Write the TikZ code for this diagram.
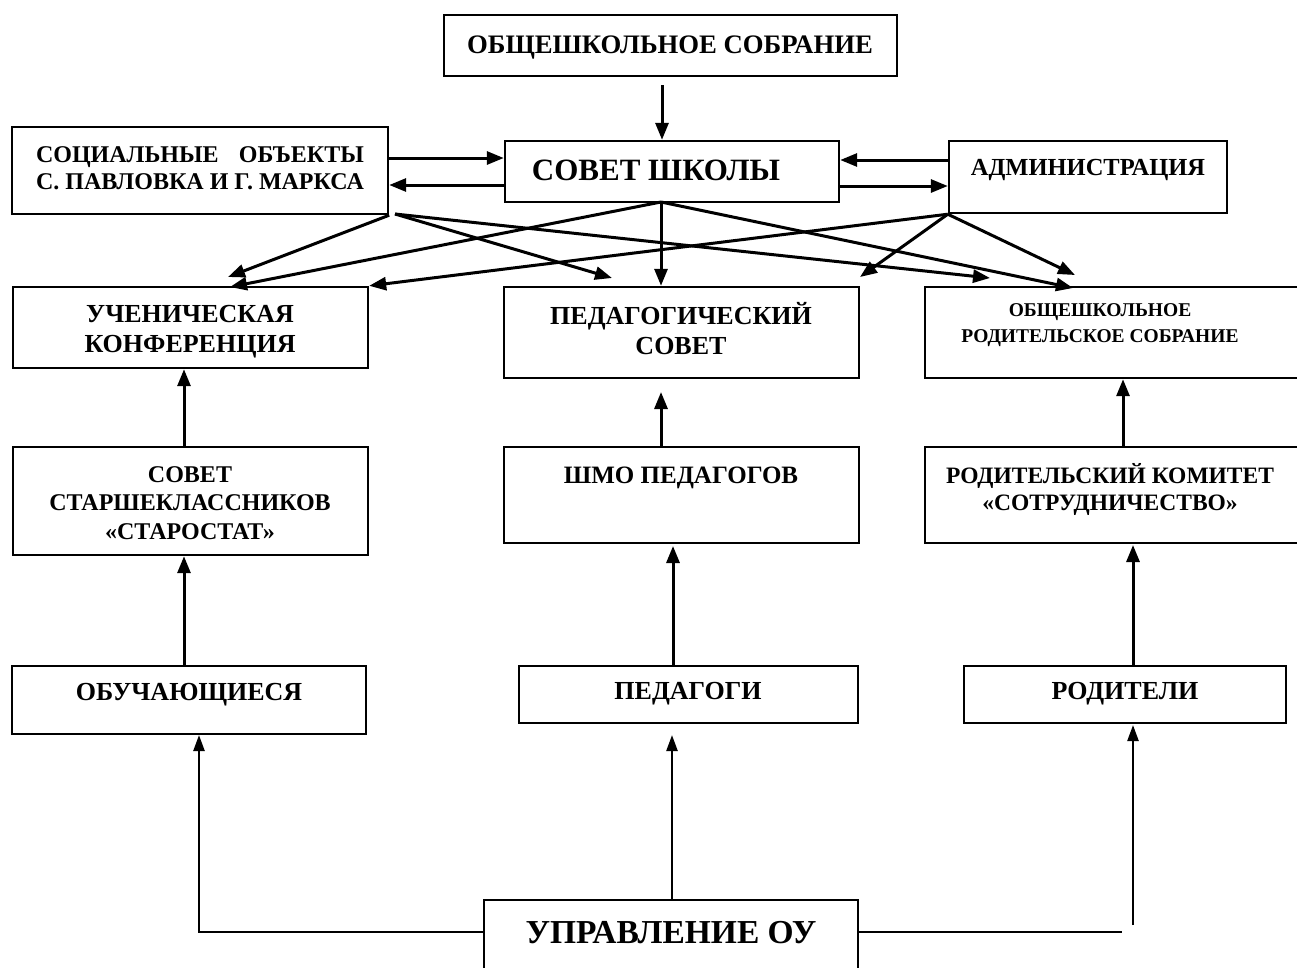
\documentclass[tikz,border=0pt]{standalone}
\usepackage{fontspec}
\setmainfont{Liberation Serif}
\usetikzlibrary{arrows.meta,fit,calc}
\newsavebox\socbox
\begin{document}
\sbox\socbox{\fontsize{24}{27}\selectfont\bfseries С. ПАВЛОВКА И Г. МАРКСА}
\begin{tikzpicture}[x=1pt,y=-1pt,
  box/.style={draw, line width=2.4pt, inner sep=0pt},
  txt/.style={align=center, inner sep=0pt},
  f/.style={font=\fontsize{#1}{#1}\selectfont\bfseries},
  arr/.style={line width=3pt, -{Triangle[length=17pt,width=13pt]}},
  arrl/.style={line width=2.4pt, -{Triangle[length=16pt,width=11pt]}},
  ln/.style={line width=2.4pt}]
\useasboundingbox (0,0) rectangle (1297,967);
\clip (0,0) rectangle (1297,967);
\fill[white] (0,0) rectangle (1297,967);

% boxes
\node[box, fit={(444,15) (897,76)}] (top) {};
\node[box, fit={(12,127) (388,214)}] (soc) {};
\node[box, fit={(505,141) (839,202)}] (sov) {};
\node[box, fit={(949,141) (1227,213)}] (adm) {};
\node[box, fit={(13,287) (368,368)}] (uch) {};
\node[box, fit={(504,287) (859,378)}] (ped) {};
\node[box, fit={(925,287) (1320,378)}] (rod) {};
\node[box, fit={(13,447) (368,555)}] (sta) {};
\node[box, fit={(504,447) (859,543)}] (shmo) {};
\node[box, fit={(925,447) (1320,543)}] (kom) {};
\node[box, fit={(12,666) (366,734)}] (obu) {};
\node[box, fit={(519,666) (858,723)}] (pdg) {};
\node[box, fit={(964,666) (1286,723)}] (par) {};
\node[box, fit={(484,900) (858,1000)}] (upr) {};

% texts
\node[txt, f=26.7] (topT) at (670,48) {ОБЩЕШКОЛЬНОЕ СОБРАНИЕ};
\node[txt, font=\fontsize{24}{27}\selectfont\bfseries] (socT) at (200,168) {\hbox to\wd\socbox{СОЦИАЛЬНЫЕ\hfill ОБЪЕКТЫ}\\\usebox\socbox};
\node[txt, f=31] (sovT) at (656,170) {СОВЕТ ШКОЛЫ};
\node[txt, f=24.5] (admT) at (1088,170) {АДМИНИСТРАЦИЯ};
\node[txt, font=\fontsize{26}{30}\selectfont\bfseries] (uchT) at (190,332) {УЧЕНИЧЕСКАЯ\\КОНФЕРЕНЦИЯ};
\node[txt, font=\fontsize{26}{30}\selectfont\bfseries] (pedT) at (681,329) {ПЕДАГОГИЧЕСКИЙ\\СОВЕТ};
\node[txt, font=\fontsize{19.5}{26}\selectfont\bfseries] (rodT) at (1100,325) {ОБЩЕШКОЛЬНОЕ\\РОДИТЕЛЬСКОЕ СОБРАНИЕ};
\node[txt, font=\fontsize{24}{28.5}\selectfont\bfseries] (staT) at (190,503) {СОВЕТ\\СТАРШЕКЛАССНИКОВ\\«СТАРОСТАТ»};
\node[txt, f=25] (shmoT) at (681,478) {ШМО ПЕДАГОГОВ};
\node[txt, font=\fontsize{23.5}{27}\selectfont\bfseries] (komT) at (1110,489) {РОДИТЕЛЬСКИЙ КОМИТЕТ\\«СОТРУДНИЧЕСТВО»};
\node[txt, f=26] (obuT) at (189,695) {ОБУЧАЮЩИЕСЯ};
\node[txt, f=26] (pdgT) at (688,694) {ПЕДАГОГИ};
\node[txt, f=26] (parT) at (1125,694) {РОДИТЕЛИ};
\node[txt, f=33.5] (uprT) at (671,933) {УПРАВЛЕНИЕ ОУ};

% coordinates
\coordinate (topB) at (662,85);
\coordinate (sovB) at (661,202);
\coordinate (socB) at (395,214);
\coordinate (uch1) at (228,277);
\coordinate (uch2) at (230,287);
\coordinate (ped1) at (612,278);
\coordinate (ped2) at (860,277);
\coordinate (rod1) at (990,278);
\coordinate (rod2) at (1073,288);
\coordinate (rod3) at (1075,275);
\coordinate (rfree) at (1122,932);
\coordinate (rup) at (1133,925);

% top rows
\draw[arr] (topB) -- (topB |- sov.north);
\draw[arr] (soc.east |- 0,158) -- (sov.west |- 0,158);
\draw[arr] (sov.west |- 0,185) -- (soc.east |- 0,185);
\draw[arr] (adm.west |- 0,160) -- (sov.east |- 0,160);
\draw[arr] (sov.east |- 0,186) -- (adm.west |- 0,186);

\draw[arr] (soc.south east) -- (uch1);
\draw[arr] (socB) -- (ped1);
\draw[arr] (socB) -- (rod1);
\draw[arr] (sovB) -- (uch2);
\draw[arr] (sovB) -- (sovB |- ped.north);
\draw[arr] (sovB) -- (rod2);
\draw[arr] (adm.south west) -- (uch.north east);
\draw[arr] (adm.south west) -- (ped2);
\draw[arr] (adm.south west) -- (rod3);

% columns
\draw[arr] (sta.north -| 184,0) -- (uch.south -| 184,0);
\draw[arr] (shmo.north -| 661,0) -- (661,392);
\draw[arr] (kom.north -| 1123,0) -- (rod.south -| 1123,0);
\draw[arr] (obu.north -| 184,0) -- (sta.south -| 184,0);
\draw[arr] (pdg.north -| 673,0) -- (673,546);
\draw[arr] (par.north -| 1133,0) -- (1133,545);

% bottom
\draw[arrl] (upr.west |- 0,932) -| (199,735);
\draw[arrl] (upr.north -| 672,0) -- (672,735);
\draw[ln] (upr.east |- 0,932) -- (rfree);
\draw[arrl] (rup) -- (1133,725);
\end{tikzpicture}
\end{document}
